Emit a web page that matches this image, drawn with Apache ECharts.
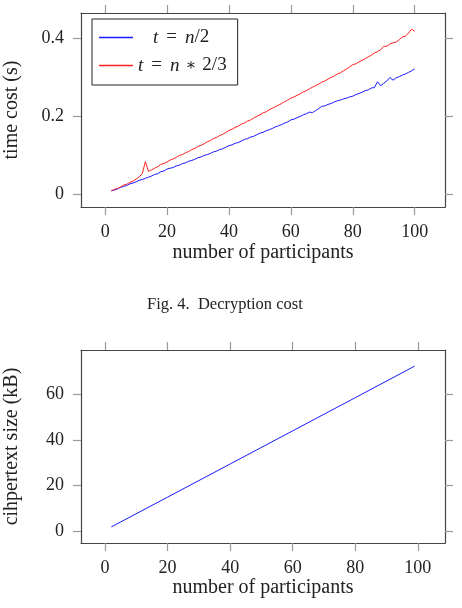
<!DOCTYPE html>
<html>
<head>
<meta charset="utf-8">
<script src="https://cdn.jsdelivr.net/npm/echarts@6/dist/echarts.min.js"></script>
<style>
  html, body { margin: 0; padding: 0; background: #fff; }
  #chart { width: 462px; height: 608px; }
</style>
</head>
<body>
<div id="chart"></div>
<script>
// number of participants (top figure)
const participants = [2, 3, 4, 5, 6, 7, 8, 9, 10, 11, 12, 13, 14, 15, 16, 17, 18, 19, 20,
  21, 22, 23, 24, 25, 26, 27, 28, 29, 30, 31, 32, 33, 34, 35, 36, 37, 38, 39, 40,
  41, 42, 43, 44, 45, 46, 47, 48, 49, 50, 51, 52, 53, 54, 55, 56, 57, 58, 59, 60,
  61, 62, 63, 64, 65, 66, 67, 68, 69, 70, 71, 72, 73, 74, 75, 76, 77, 78, 79, 80,
  81, 82, 83, 84, 85, 86, 87, 88, 89, 90, 91, 92, 93, 94, 95, 96, 97, 98, 99, 100]

// t = n/2
const timeHalf = [0.008, 0.010, 0.013, 0.017, 0.019, 0.022, 0.026, 0.028, 0.031, 0.035,
  0.037, 0.040, 0.043, 0.046, 0.050, 0.052, 0.057, 0.059, 0.064, 0.066,
  0.068, 0.072, 0.074, 0.078, 0.080, 0.084, 0.086, 0.089, 0.093, 0.095,
  0.099, 0.101, 0.104, 0.108, 0.110, 0.114, 0.116, 0.120, 0.124, 0.126,
  0.130, 0.132, 0.136, 0.140, 0.142, 0.146, 0.148, 0.152, 0.156, 0.158,
  0.162, 0.165, 0.168, 0.172, 0.175, 0.178, 0.182, 0.185, 0.190, 0.192,
  0.196, 0.199, 0.203, 0.206, 0.210, 0.209, 0.214, 0.219, 0.225, 0.226,
  0.230, 0.232, 0.236, 0.239, 0.241, 0.244, 0.246, 0.249, 0.251, 0.255,
  0.258, 0.261, 0.265, 0.267, 0.272, 0.273, 0.288, 0.278, 0.284, 0.290,
  0.299, 0.292, 0.298, 0.301, 0.305, 0.308, 0.312, 0.316, 0.321]

// t = n*2/3
const timeTwoThirds = [0.008, 0.012, 0.014, 0.018, 0.023, 0.025, 0.030, 0.033, 0.038, 0.044,
  0.052, 0.083, 0.058, 0.062, 0.066, 0.070, 0.076, 0.078, 0.082, 0.087,
  0.090, 0.094, 0.099, 0.101, 0.106, 0.109, 0.114, 0.117, 0.122, 0.125,
  0.129, 0.134, 0.137, 0.142, 0.145, 0.150, 0.153, 0.158, 0.163, 0.166,
  0.171, 0.174, 0.179, 0.182, 0.187, 0.190, 0.195, 0.199, 0.203, 0.208,
  0.211, 0.216, 0.220, 0.224, 0.228, 0.232, 0.237, 0.241, 0.246, 0.249,
  0.253, 0.257, 0.262, 0.265, 0.270, 0.274, 0.278, 0.282, 0.287, 0.290,
  0.295, 0.299, 0.303, 0.308, 0.311, 0.316, 0.321, 0.326, 0.332, 0.334,
  0.339, 0.343, 0.347, 0.352, 0.356, 0.362, 0.365, 0.370, 0.379, 0.379,
  0.385, 0.388, 0.390, 0.396, 0.403, 0.405, 0.413, 0.423, 0.418]

// ciphertext size (bottom figure)
const sizeParticipants = [2, 20, 40, 60, 80, 99]
const sizeKB = [1.8, 14.9, 29.5, 44.1, 58.7, 72.6]

const xTicks = [0, 20, 40, 60, 80, 100]
const timeTicks = [0, 0.2, 0.4]
const sizeTicks = [0, 20, 40, 60]

const serif = 'Liberation Serif'
const textColor = '#222'
const blue = '#1a1aff'
const red = '#ff2020'

function zip(xs, ys) {
    return xs.map(function (x, i) { return [x, ys[i]] })
}

function axis(opts) {
    let a = {
        type: 'value',
        gridIndex: opts.grid,
        position: opts.position,
        min: opts.min,
        max: opts.max,
        axisLine: { show: true, onZero: false, lineStyle: { color: '#444', width: 1.2 } },
        axisTick: { show: true, inside: false, length: 8, customValues: opts.ticks, lineStyle: { color: '#999', width: 1.2 } },
        axisLabel: {
            show: !!opts.labels, customValues: opts.ticks, margin: opts.margin || 12,
            fontFamily: serif, fontSize: 18, color: textColor
        },
        splitLine: { show: false }
    }
    if (opts.name) {
        a.name = opts.name
        a.nameLocation = 'middle'
        a.nameGap = opts.nameGap
        a.nameTextStyle = { fontFamily: serif, fontSize: 20, color: textColor }
    }
    return a
}

function line(name, xi, color, data) {
    return {
        type: 'line', name: name, xAxisIndex: xi, yAxisIndex: xi,
        symbol: 'none', color: color,
        itemStyle: { color: color },
        lineStyle: { width: 1, color: color },
        data: data
    }
}

let option = {
    animation: false,
    backgroundColor: '#fff',
    title: {
        text: 'Fig. 4.  Decryption cost',
        left: 142, top: 291,
        textStyle: { fontFamily: serif, fontSize: 16.5, fontWeight: 'normal', color: textColor }
    },
    grid: [
        { left: 81, top: 13, width: 364, height: 194, outerBoundsMode: 'none' },
        { left: 81, top: 350, width: 364, height: 193, outerBoundsMode: 'none' }
    ],
    legend: {
        orient: 'vertical',
        left: 92, top: 19,
        padding: [9, 11, 10, 7],
        icon: 'rect',
        itemWidth: 34, itemHeight: 1.3, itemGap: 9,
        borderColor: '#222', borderWidth: 1,
        data: [
            { name: 'half', itemStyle: { color: blue } },
            { name: 'twoThirds', itemStyle: { color: red } }
        ],
        formatter: function (name) {
            if (name === 'half') return '{sp|}{i|t}{eq|=}{i|n}{r|/2}'
            return '{i|t}{eq|=}{i|n}{op|∗}{r|2/3}'
        },
        textStyle: {
            fontFamily: serif, fontSize: 19, color: textColor,
            rich: {
                sp: { width: 15 },
                i: { fontFamily: serif, fontSize: 19, fontStyle: 'italic', color: textColor },
                r: { fontFamily: serif, fontSize: 19, color: textColor },
                eq: { fontFamily: serif, fontSize: 19, color: textColor, padding: [0, 8, 0, 8] },
                op: { fontFamily: 'DejaVu Serif', fontSize: 16, color: textColor, padding: [0, 6, 0, 6] }
            }
        }
    },
    xAxis: [
        axis({ grid: 0, position: 'bottom', min: -7.8, max: 109.8, ticks: xTicks, labels: true, margin: 16,
               name: 'number of participants', nameGap: 36 }),
        axis({ grid: 0, position: 'top', min: -7.8, max: 109.8, ticks: xTicks }),
        axis({ grid: 1, position: 'bottom', min: -7.7, max: 108.7, ticks: xTicks, labels: true, margin: 16,
               name: 'number of participants', nameGap: 34 }),
        axis({ grid: 1, position: 'top', min: -7.7, max: 108.7, ticks: xTicks })
    ],
    yAxis: [
        axis({ grid: 0, position: 'left', min: -0.0335, max: 0.4645, ticks: timeTicks, labels: true, margin: 17,
               name: 'time cost (s)', nameGap: 59 }),
        axis({ grid: 0, position: 'right', min: -0.0335, max: 0.4645, ticks: timeTicks }),
        axis({ grid: 1, position: 'left', min: -5.3, max: 79.7, ticks: sizeTicks, labels: true, margin: 17,
               name: 'cihpertext size (kB)', nameGap: 59 }),
        axis({ grid: 1, position: 'right', min: -5.3, max: 79.7, ticks: sizeTicks })
    ],
    series: [
        line('half', 0, blue, zip(participants, timeHalf)),
        line('twoThirds', 0, red, zip(participants, timeTwoThirds)),
        line('size', 2, blue, zip(sizeParticipants, sizeKB))
    ]
}

let chart = echarts.init(document.getElementById('chart'), null, { renderer: 'canvas' })
chart.setOption(option)
window.onresize = function () { chart.resize() }
</script>
</body>
</html>
